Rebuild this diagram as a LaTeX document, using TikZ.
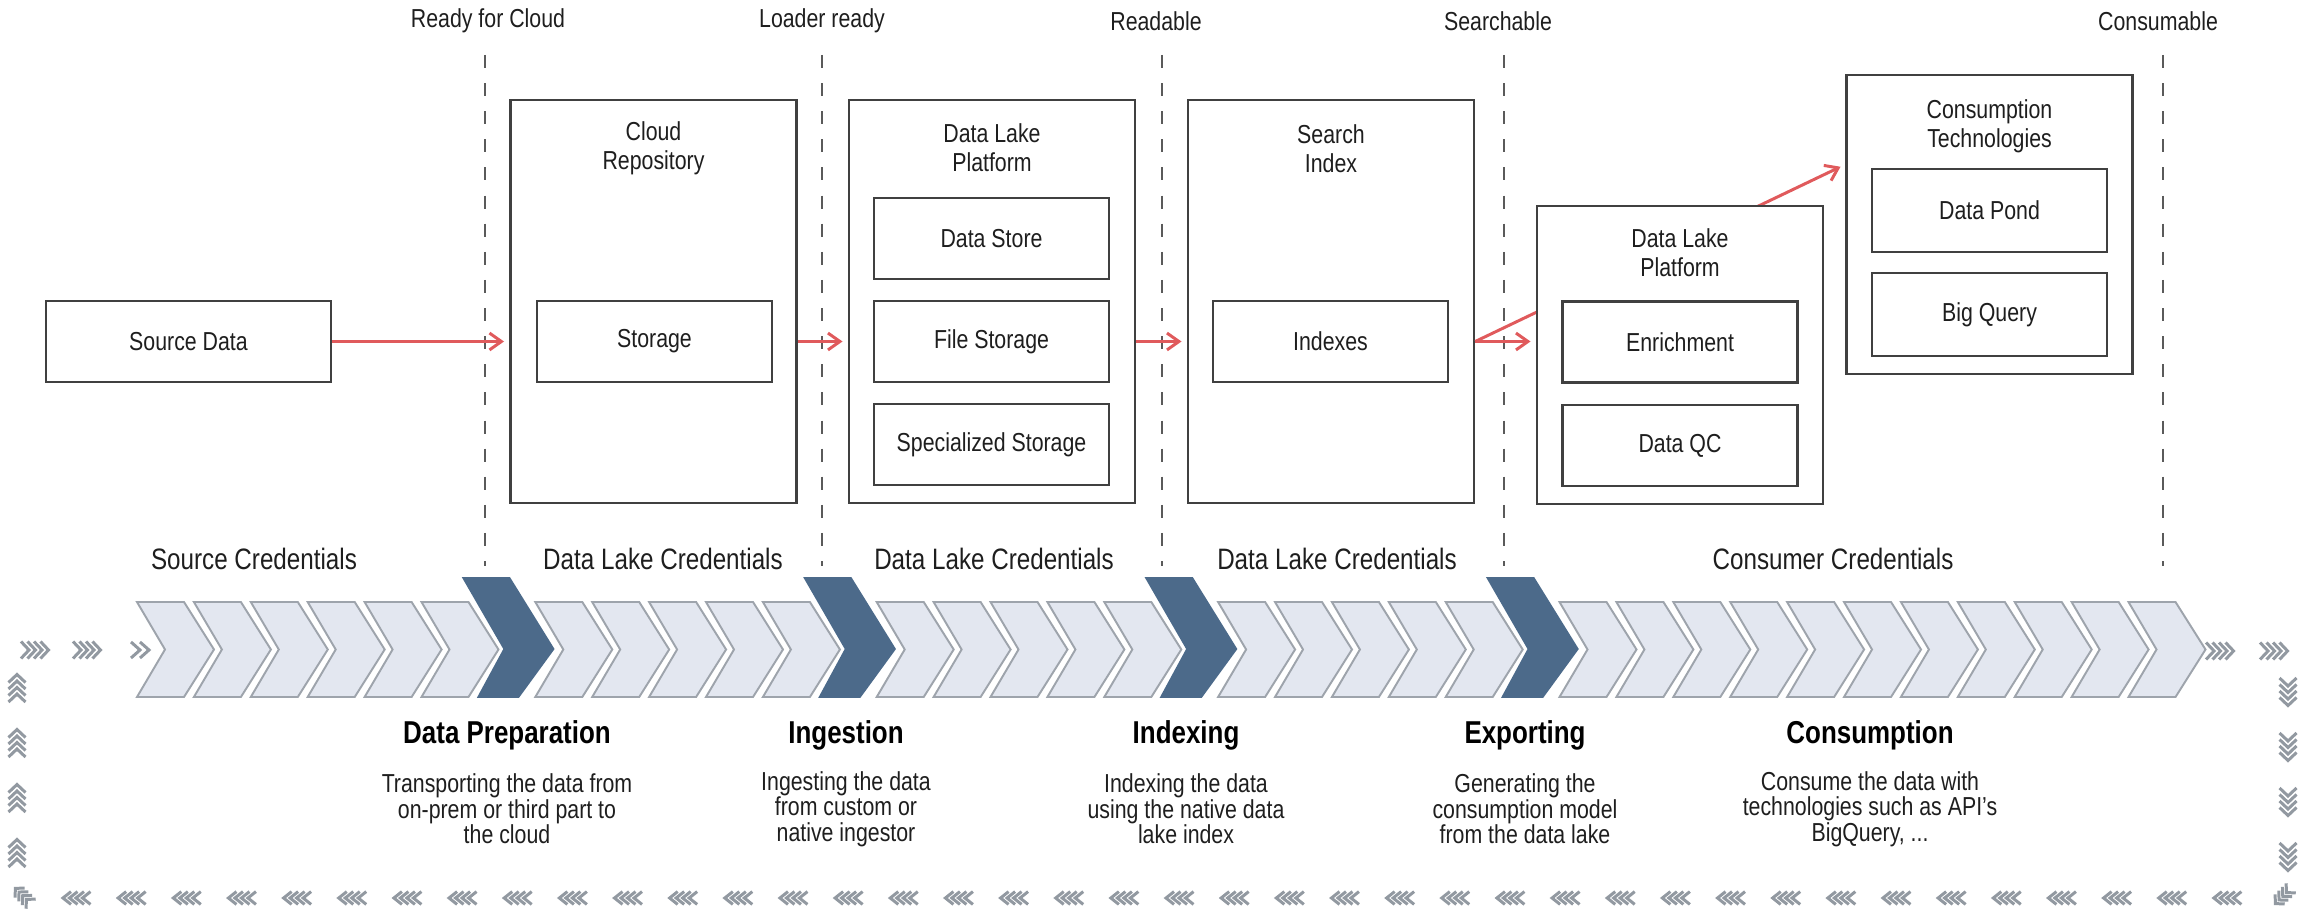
\documentclass[tikz,border=0pt]{standalone}
\usepackage{fontspec}
\setmainfont{Liberation Sans}[FakeStretch=0.82]
\usetikzlibrary{arrows.meta,calc}

\definecolor{boxgray}{HTML}{404040}
\definecolor{dashgray}{HTML}{5A5A5A}
\definecolor{flowred}{HTML}{E05A5C}
\definecolor{chevfill}{HTML}{E3E7F0}
\definecolor{chevline}{HTML}{9EA4AC}
\definecolor{chevdark}{HTML}{4C6A8A}
\definecolor{markgray}{HTML}{9299A1}
\definecolor{txt}{HTML}{1E1E1E}

\newcommand{\bodyfont}{\fontsize{7.4}{8.25}\selectfont}
\newcommand{\descfont}{\fontsize{7.4}{7.3}\selectfont}
\newcommand{\credfont}{\fontsize{8.4}{9}\selectfont}
\newcommand{\stepfont}{\fontsize{9}{10}\selectfont\bfseries}

\tikzset{
  inbox/.style={draw=boxgray, line width=0.7pt, fill=white, minimum width=23.5mm,
    minimum height=8.1mm, inner sep=0pt, text=txt, font=\bodyfont},
  outbox/.style={draw=boxgray, line width=0.7pt, fill=white, minimum width=28.6mm, inner sep=0pt},
  boxtitle/.style={align=center, text=txt, font=\bodyfont, inner sep=0pt},
  tag/.style={text=txt, font=\bodyfont, inner sep=0pt},
  cred/.style={text=txt, font=\credfont, inner sep=0pt},
  steptitle/.style={text=black, font=\stepfont, inner sep=0pt},
  stepdesc/.style={text=txt, font=\descfont, align=center, inner sep=0pt},
  milestone/.style={dashgray, line width=0.45pt, dash pattern=on 3.7pt off 4.3pt},
  flow/.style={flowred, line width=0.85pt, -{Straight Barb[length=3.4pt,width=4.8pt]}, shorten >=1.5pt},
  chevlight/.style={fill=chevfill, draw=chevline, line width=0.55pt, line join=miter},
  chevheavy/.style={fill=chevdark, draw=chevdark, line width=0.55pt, line join=miter},
  markline/.style={markgray, line width=0.85pt},
  flowmark/.pic={
    \foreach \i in {0,...,3}
      \draw[markline] ({\i*6.5-14},-8.5) -- ({\i*6.5-6},0) -- ({\i*6.5-14},8.5);
  },
  flowstart/.pic={
    \foreach \i in {0,1}
      \draw[markline] ({\i*9-12},-8) -- ({\i*9-3},0) -- ({\i*9-12},8);
  },
}

\begin{document}
\begin{tikzpicture}[x=0.1mm, y=-0.1mm]
\useasboundingbox (0,0) rectangle (2305,918);

% milestones
\foreach \mx/\lx/\txt in {485/488/Ready for Cloud, 822/822/Loader ready, 1162/1156/Readable,
    1504/1498/Searchable, 2163/2158/Consumable}{
  \draw[milestone] (\mx,55) -- (\mx,566);
  \node[tag] (ms\mx) at (\lx,21) {\txt};
}

% credentials
\node[cred] (credsrc) at (254,559) {Source Credentials};
\node[cred] (credlakea) at (663,559) {Data Lake Credentials};
\node[cred] (credlakeb) at (994,559) {Data Lake Credentials};
\node[cred] (credlakec) at (1337,559) {Data Lake Credentials};
\node[cred] (credcons) at (1833,559) {Consumer Credentials};

% source
\node[inbox, minimum width=28.5mm] (src) at (188.5,341.5) {Source Data};

% cloud repository
\node[outbox, minimum height=40.3mm] (cloud) at (653.5,301.5) {};
\node[boxtitle] (cloudtitle) at ($(cloud.north)+(0,50)$) {Cloud\\Repository};
\node[inbox] (store) at (654.5,341.5) {Storage};

% data lake platform
\node[outbox, minimum height=40.3mm] (dlp) at (992,301.5) {};
\node[boxtitle] (dlptitle) at ($(dlp.north)+(0,49)$) {Data Lake\\Platform};
\node[inbox] (dstore) at (991.5,238.5) {Data Store};
\node[inbox] (fstore) at (991.5,341.5) {File Storage};
\node[inbox] (sstore) at (991.5,444.5) {Specialized Storage};

% search index
\node[outbox, minimum height=40.3mm] (search) at (1331,301.5) {};
\node[boxtitle] (searchtitle) at ($(search.north)+(0,50)$) {Search\\Index};
\node[inbox] (idx) at (1330.5,341.5) {Indexes};

% consumption technologies
\node[outbox, minimum height=29.9mm] (cons) at (1989.5,224.5) {};
\node[boxtitle] (constitle) at ($(cons.north)+(0,53)$) {Consumption\\Technologies};
\node[inbox, minimum height=8.3mm] (pond) at (1989.5,210.5) {Data Pond};
\node[inbox, minimum height=8.3mm] (bq) at (1989.5,314.5) {Big Query};

% export line runs behind the second platform
\coordinate (consin) at ($(cons.west)+(0,-60)$);
\draw[flow] (idx.east -| search.east) -- (consin);

% data lake platform (export)
\node[outbox, minimum height=29.8mm] (dlpb) at (1680,355) {};
\node[boxtitle] (dlpbtitle) at ($(dlpb.north)+(0,48)$) {Data Lake\\Platform};
\node[inbox] (enrich) at (1680,342) {Enrichment};
\node[inbox] (dqc) at (1680,445.5) {Data QC};

% flow
\draw[flow] (src.east) -- (src.east -| cloud.west);
\draw[flow] (store.east -| cloud.east) -- (store.east -| dlp.west);
\draw[flow] (fstore.east -| dlp.east) -- (fstore.east -| search.west);
\draw[flow] (idx.east -| search.east) -- (idx.east -| dlpb.west);

% chevron band
\foreach \k in {0,...,35}{
  \pgfmathsetmacro\cx{137+56.9*\k}
  \pgfmathparse{int(mod(\k,6)==0 && \k>0 && \k<30)}
  \ifnum\pgfmathresult=1
    \draw[chevheavy] ({\cx-15},578) -- ({\cx+31},578) -- ({\cx+75},649) -- ({\cx+40},697)
      -- (\cx,697) -- ({\cx+26},649) -- cycle;
  \else
    \draw[chevlight] (\cx,602) -- ({\cx+47},602) -- ({\cx+77},649.5) -- ({\cx+47},697)
      -- (\cx,697) -- ({\cx+28},649.5) -- cycle;
  \fi
}

% steps
\foreach \sx/\stitle/\sdesc in {
    507/Data Preparation/{Transporting the data from\\on-prem or third part to\\the cloud},
    846/Ingestion/{Ingesting the data\\from custom or\\native ingestor},
    1186/Indexing/{Indexing the data\\using the native data\\lake index},
    1525/Exporting/{Generating the\\consumption model\\from the data lake},
    1870/Consumption/{Consume the data with\\technologies such as API's\\BigQuery, ...}}{
  \node[steptitle] (st\sx) at (\sx,735) {\stitle};
  \node[stepdesc] (sd\sx) at (\sx,809) {\sdesc};
}

% loop marks
\pic at (35,650) {flowmark};
\pic at (87,650) {flowmark};
\pic at (143,650) {flowstart};
\pic at (2220,651) {flowmark};
\pic at (2274,651) {flowmark};
\foreach \my in {692,747,802,857}
  \pic[rotate=-90] at (2288,\my) {flowmark};
\foreach \my in {688,743,798,853}
  \pic[rotate=90] at (17,\my) {flowmark};
\foreach \j in {0,...,39}
  \pic[rotate=180, yscale=0.75] at ({76.5+55.15*\j},898) {flowmark};
\pic[rotate=135, scale=0.8] at (23,896) {flowmark};
\pic[rotate=225, scale=0.8] at (2283,896) {flowmark};
\end{tikzpicture}
\end{document}
